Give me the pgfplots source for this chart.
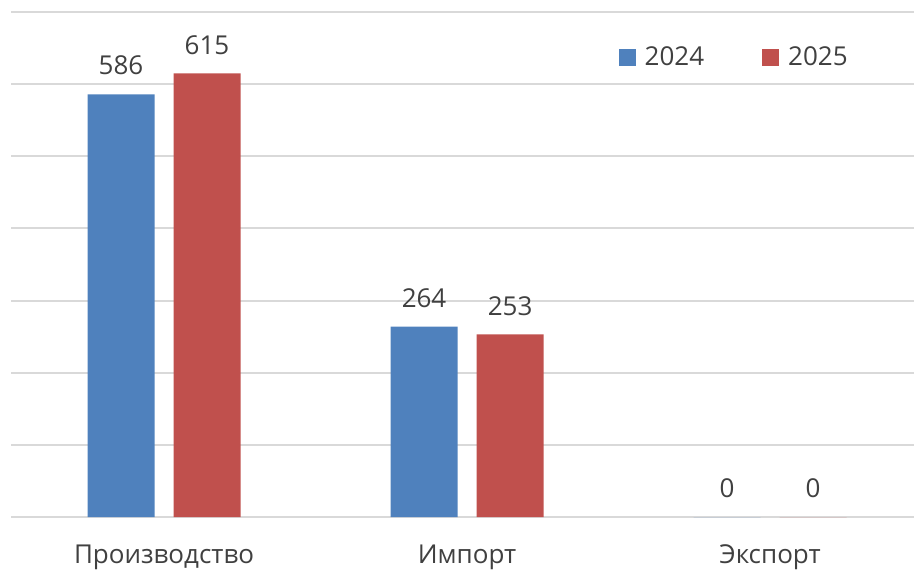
\documentclass[border=0pt]{standalone}
\usepackage{pgfplots}
\pgfplotsset{compat=1.18}
\usepackage{fontspec}
\setmainfont{Open Sans}
\definecolor{cblue}{HTML}{4F81BD}
\definecolor{cred}{HTML}{C0504D}
\definecolor{ctext}{HTML}{404040}
\definecolor{cgrid}{HTML}{D9D9D9}
\begin{document}
\begin{tikzpicture}
\useasboundingbox (-5.5pt,-26pt) rectangle (451.5pt,258.5pt);
\begin{axis}[
  at={(0,0)}, anchor=south west,
  scale only axis,
  width=451.5pt, height=252.5pt,
  ybar=9.5pt, bar width=33.5pt,
  xmin=-0.505, xmax=2.475,
  ymin=0, ymax=700,
  ytick={0,100,...,700},
  yticklabels={},
  ymajorgrids,
  grid style={cgrid, line width=1pt},
  major tick length=0pt,
  axis line style={draw=none},
  xtick={0,1,2},
  xticklabels={Производство,Импорт,Экспорт},
  xticklabel style={font=\fontsize{13}{15}\selectfont, text=ctext, yshift=-10.5pt},
  /pgf/number format/assume math mode=true,
  nodes near coords,
  every node near coord/.append style={font=\fontsize{13}{15}\selectfont, text=ctext, yshift=6pt},
  legend style={draw=none, fill=none, at={(0.938,0.909)}, anchor=east,
    font=\fontsize{13}{15}\selectfont, text=ctext, legend columns=2,
    /tikz/every even column/.append style={column sep=27pt}},
  legend image code/.code={\fill[#1] (0pt,-4.25pt) rectangle (8.5pt,4.25pt); \path (11pt,0pt);},
]
\addplot[fill=cblue, draw=none] coordinates {(0,586) (1,264) (2,0)};
\addplot[fill=cred, draw=none] coordinates {(0,615) (1,253) (2,0)};
\legend{2024,2025}
\end{axis}
\end{tikzpicture}
\end{document}
